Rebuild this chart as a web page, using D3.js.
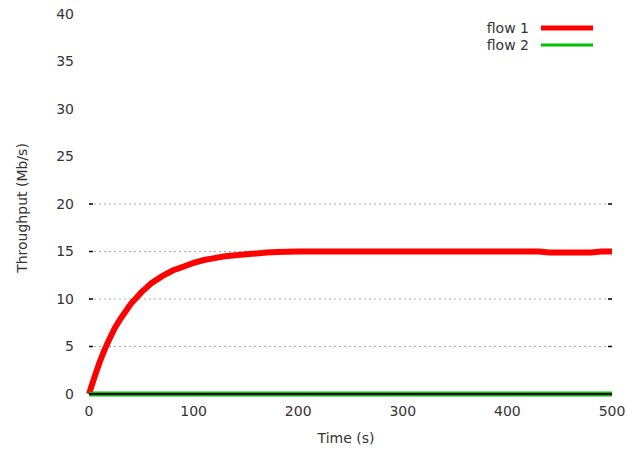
<!DOCTYPE html>
<html>
<head>
<meta charset="utf-8">
<script src="https://cdn.jsdelivr.net/npm/d3@7"></script>
<style>
  body { margin: 0; background: #fff; }
  text { font-family: "DejaVu Sans", sans-serif; fill: #333; }
</style>
</head>
<body>
<div id="chart"></div>
<script>
// data
var flow1Time = [0, 5, 10, 15, 20, 25, 30, 40, 50, 60, 70, 80, 90, 100, 110, 120, 130, 140, 150, 160, 170, 180, 200, 250, 300, 350, 400, 430, 440, 460, 480, 490, 500];
var flow1Rate = [0, 1.7, 3.3, 4.7, 5.9, 7.0, 7.9, 9.5, 10.7, 11.7, 12.4, 13.0, 13.4, 13.8, 14.1, 14.3, 14.5, 14.6, 14.7, 14.8, 14.9, 14.95, 15.0, 15.0, 15.0, 15.0, 15.0, 15.0, 14.9, 14.9, 14.9, 15.0, 15.0];
var flow2Time = [0, 100, 200, 300, 400, 500];
var flow2Rate = [0, 0, 0, 0, 0, 0];
var xTicks = [0, 100, 200, 300, 400, 500];
var yTicks = [0, 5, 10, 15, 20, 25, 30, 35, 40];
var gridTicks = [5, 10, 15, 20];
var seriesNames = ["flow 1", "flow 2"];
var seriesColors = ["#ff0000", "#00c000"];

var width = 627, height = 451;
var svg = d3.select("#chart").append("svg")
	.attr("width", width)
	.attr("height", height);

var x = d3.scaleLinear().domain([0, 500]).range([89, 612]);
var y = d3.scaleLinear().domain([0, 40]).range([394, 14]);

// dotted grid with small ticks at both ends
gridTicks.forEach(function(v) {
	svg.append("line")
		.attr("x1", x(0)).attr("x2", x(500))
		.attr("y1", y(v)).attr("y2", y(v))
		.attr("stroke", "#aaa").attr("stroke-width", 1)
		.attr("stroke-dasharray", "2,3");
	svg.append("line")
		.attr("x1", x(0)).attr("x2", x(0) + 4)
		.attr("y1", y(v)).attr("y2", y(v))
		.attr("stroke", "#000").attr("stroke-width", 1.5);
	svg.append("line")
		.attr("x1", x(500) - 4).attr("x2", x(500))
		.attr("y1", y(v)).attr("y2", y(v))
		.attr("stroke", "#000").attr("stroke-width", 1.5);
});

// tick labels
svg.selectAll(".ylab").data(yTicks).enter().append("text")
	.attr("x", 74).attr("y", function(d) { return y(d); })
	.attr("dy", "0.35em")
	.attr("text-anchor", "end")
	.attr("font-size", 14)
	.text(function(d) { return d; });

svg.selectAll(".xlab").data(xTicks).enter().append("text")
	.attr("x", function(d) { return x(d); }).attr("y", 411)
	.attr("dy", "0.35em")
	.attr("text-anchor", "middle")
	.attr("font-size", 14)
	.text(function(d) { return d; });

// axis titles
svg.append("text")
	.attr("x", 346).attr("y", 438)
	.attr("dy", "0.35em")
	.attr("text-anchor", "middle")
	.attr("font-size", 14)
	.text("Time (s)");

svg.append("text")
	.attr("transform", "translate(22,208) rotate(-90)")
	.attr("dy", "0.35em")
	.attr("text-anchor", "middle")
	.attr("font-size", 14)
	.text("Throughput (Mb/s)");

var line = d3.line()
	.x(function(d) { return x(d[0]); })
	.y(function(d) { return y(d[1]); });

var flow1 = d3.zip(flow1Time, flow1Rate);
var flow2 = d3.zip(flow2Time, flow2Rate);

svg.append("path")
	.attr("d", line(flow1))
	.attr("fill", "none")
	.attr("stroke", seriesColors[0])
	.attr("stroke-width", 6);

svg.append("path")
	.attr("d", line(flow2))
	.attr("fill", "none")
	.attr("stroke", seriesColors[1])
	.attr("stroke-width", 5);

// black zero line on top of flow 2
svg.append("line")
	.attr("x1", x(0)).attr("x2", x(500))
	.attr("y1", y(0)).attr("y2", y(0))
	.attr("stroke", "#000").attr("stroke-width", 2);

// legend
seriesNames.forEach(function(name, i) {
	var ly = 28 + i * 17;
	svg.append("text")
		.attr("x", 529).attr("y", ly)
		.attr("dy", "0.35em")
		.attr("text-anchor", "end")
		.attr("font-size", 14)
		.text(name);
	svg.append("line")
		.attr("x1", 541).attr("x2", 593)
		.attr("y1", ly).attr("y2", ly)
		.attr("stroke", seriesColors[i])
		.attr("stroke-width", i === 0 ? 5 : 3);
});
</script>
</body>
</html>
